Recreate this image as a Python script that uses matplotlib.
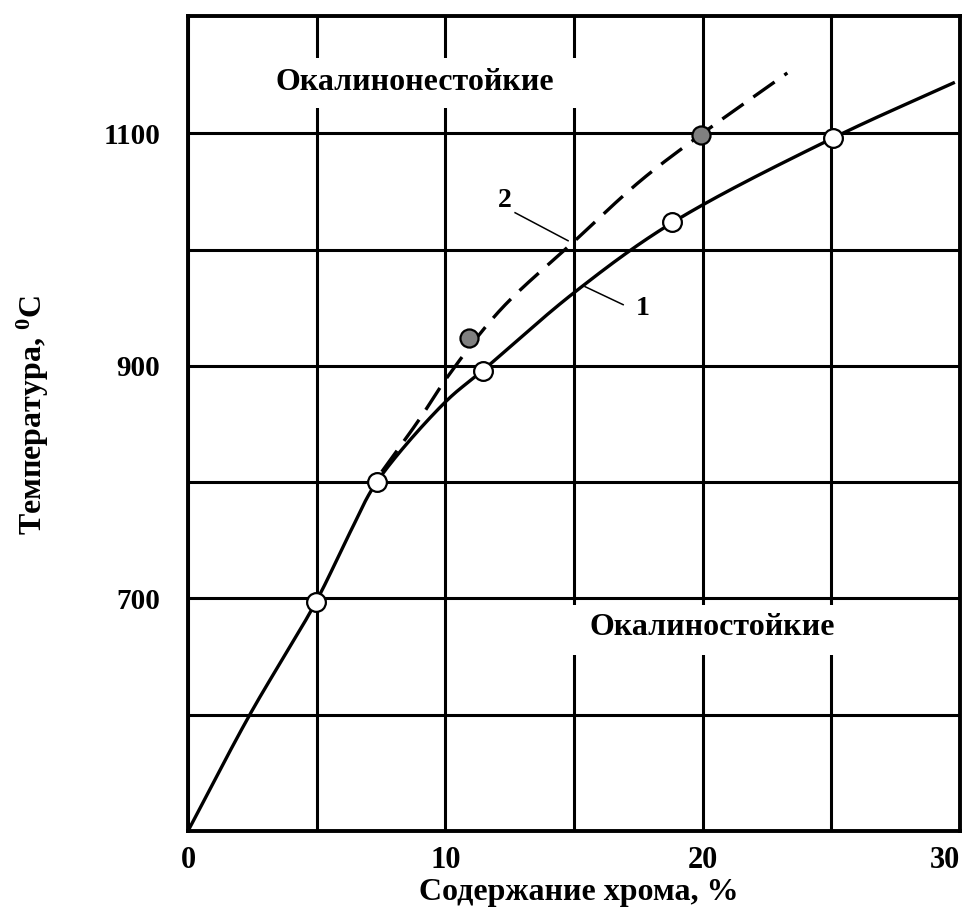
import numpy as np
import matplotlib
matplotlib.use("Agg")
import matplotlib.pyplot as plt
from matplotlib.patches import Rectangle
from matplotlib.ticker import FixedLocator

plt.rcParams["font.family"] = ["Liberation Serif", "DejaVu Serif"]
plt.rcParams["font.weight"] = "bold"
plt.rcParams["mathtext.fontset"] = "custom"
plt.rcParams["mathtext.rm"] = "Liberation Serif:bold"
plt.rcParams["mathtext.bf"] = "Liberation Serif:bold"
plt.rcParams["mathtext.it"] = "Liberation Serif:bold"

# Curve 1 (solid): chromium content, % vs. temperature, °C
curve1_x = [0.0, 2.4, 4.97, 6.3, 7.33, 10.0, 11.45, 15.0, 18.8, 25.06, 29.8]
curve1_y = [500, 600, 697, 757, 800, 869, 896, 963, 1023, 1096, 1144]

# Curve 2 (dashed)
curve2_x = [7.53, 9.02, 10.0, 12.13, 15.0, 17.57, 19.93, 23.29]
curve2_y = [809, 855, 888, 948, 1007, 1059, 1099, 1152]

# Measured points
open_x = [4.97, 7.33, 11.45, 18.8, 25.06]
open_y = [697, 800, 896, 1023.5, 1096]
filled_x = [10.93, 19.93]
filled_y = [924, 1099]

x_major = [0, 10, 20, 30]
x_minor = [5, 15, 25]
y_major = [700, 900, 1100]
y_minor = [600, 800, 1000]

label_top = "Окалинонестойкие"
label_bottom = "Окалиностойкие"
xlabel = "Содержание хрома, %"
ylabel = "Температура, $^{0}$C"


def catmull_rom(xs, ys, scale=(25.7, 1.16), n=40, alpha=0.5):
    """Centripetal Catmull-Rom spline through the given points."""
    s = np.array(scale)
    p = np.column_stack([xs, ys]).astype(float) * s
    p = np.vstack([2 * p[0] - p[1], p, 2 * p[-1] - p[-2]])
    out = []
    for i in range(1, len(p) - 2):
        p0, p1, p2, p3 = p[i - 1], p[i], p[i + 1], p[i + 2]
        t0 = 0.0
        t1 = t0 + np.linalg.norm(p1 - p0) ** alpha
        t2 = t1 + np.linalg.norm(p2 - p1) ** alpha
        t3 = t2 + np.linalg.norm(p3 - p2) ** alpha
        t = np.linspace(t1, t2, n, endpoint=(i == len(p) - 3))[:, None]
        a1 = (t1 - t) / (t1 - t0) * p0 + (t - t0) / (t1 - t0) * p1
        a2 = (t2 - t) / (t2 - t1) * p1 + (t - t1) / (t2 - t1) * p2
        a3 = (t3 - t) / (t3 - t2) * p2 + (t - t2) / (t3 - t2) * p3
        b1 = (t2 - t) / (t2 - t0) * a1 + (t - t0) / (t2 - t0) * a2
        b2 = (t3 - t) / (t3 - t1) * a2 + (t - t1) / (t3 - t1) * a3
        c = (t2 - t) / (t2 - t1) * b1 + (t - t1) / (t2 - t1) * b2
        out.append(c)
    c = np.vstack(out) / s
    return c[:, 0], c[:, 1]


fig = plt.figure(figsize=(9.7, 9.14), dpi=100)
ax = fig.add_axes([188 / 970, 1 - 831 / 914, 772 / 970, 815 / 914])
ax.set_xlim(0, 30)
ax.set_ylim(500, 1201)

ax.xaxis.set_major_locator(FixedLocator(x_major))
ax.xaxis.set_minor_locator(FixedLocator(x_minor))
ax.yaxis.set_major_locator(FixedLocator(y_major))
ax.yaxis.set_minor_locator(FixedLocator(y_minor))
ax.set_xticklabels([str(v) for v in x_major])
ax.set_yticklabels([str(v) for v in y_major])
ax.get_xticklabels()[-1].set_horizontalalignment("right")
ax.tick_params(which="both", length=0)
ax.tick_params(axis="x", pad=11, labelsize=22)
ax.tick_params(axis="y", pad=20, labelsize=21)
ax.grid(which="both", color="black", linewidth=2.2, zorder=1)
ax.set_axisbelow(True)
for sp in ax.spines.values():
    sp.set_linewidth(2.8)
    sp.set_zorder(6)

# white panels behind the region labels
ax.add_patch(Rectangle((3.0, 1122), 12.3, 43, facecolor="white", edgecolor="none", zorder=2))
ax.add_patch(Rectangle((14.7, 651.4), 10.7, 43, facecolor="white", edgecolor="none", zorder=2))
ax.text(8.82, 1137.4, label_top, ha="center", va="baseline", fontsize=23, fontweight="bold", zorder=3)
ax.text(20.39, 668.7, label_bottom, ha="center", va="baseline", fontsize=23, fontweight="bold", zorder=3)

# curves
c1x, c1y = catmull_rom(curve1_x, curve1_y)
ax.plot(c1x, c1y, color="black", lw=2.4, solid_capstyle="butt", zorder=4)
c2x, c2y = catmull_rom(curve2_x, curve2_y)
ax.plot(c2x, c2y, color="black", lw=2.4, dashes=(7.8, 3.6), dash_capstyle="butt", zorder=4)

# markers
ax.plot(open_x, open_y, "o", ms=13.5, mfc="white", mec="black", mew=1.6, zorder=5)
ax.plot(filled_x, filled_y, "o", ms=13, mfc="#808080", mec="black", mew=1.6, zorder=5)

# curve labels with leader lines
ax.plot([12.71, 14.77], [1031.8, 1007.7], color="black", lw=1.1, zorder=4)
ax.text(12.32, 1042, "2", ha="center", va="center", fontsize=20, fontweight="bold", zorder=5)
ax.plot([15.43, 16.91], [968.2, 952.7], color="black", lw=1.1, zorder=4)
ax.text(17.68, 949, "1", ha="center", va="center", fontsize=20, fontweight="bold", zorder=5)

fig.text(579 / 970, 1 - 900 / 914, xlabel, ha="center", va="baseline", fontsize=23, fontweight="bold")
fig.text(33 / 970, 1 - 415 / 914, ylabel, ha="center", va="center", rotation=90,
         fontsize=23, fontweight="bold")

fig.savefig("out.png", dpi=100)
